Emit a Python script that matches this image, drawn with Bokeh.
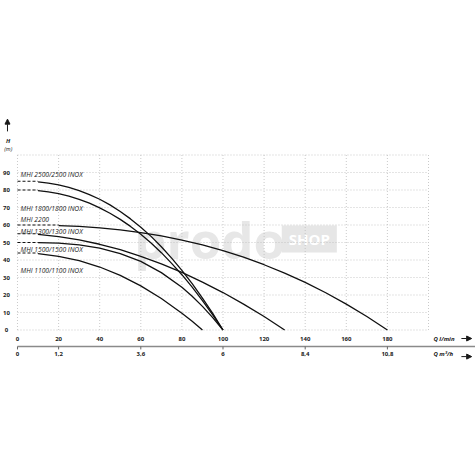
from bokeh.plotting import figure
from bokeh.models import Range1d, Arrow, NormalHead, ColumnDataSource
from bokeh.embed import file_html
from bokeh.resources import INLINE
from bokeh.core.properties import value

# ---------------- data ----------------
h_ticks = [0, 10, 20, 30, 40, 50, 60, 70, 80, 90]
grid_h = [0, 10, 20, 30, 40, 50, 60, 70, 80, 90, 100]
q_ticks = [0, 20, 40, 60, 80, 100, 120, 140, 160, 180]
grid_q = [0, 20, 40, 60, 80, 100, 120, 140, 160, 180, 200]
m3h_ticks = [0, 20, 60, 100, 140, 180]
m3h_labels = ["0", "1,2", "3,6", "6", "8,4", "10,8"]

q_2500 = [0, 5, 10, 15, 20, 25, 30, 35, 40, 45, 50, 55, 60, 65, 70, 75, 80, 85, 90, 95, 100]
h_2500 = [85, 84.9, 84.6, 83.9, 82.9, 81.5, 79.7, 77.4, 74.7, 71.5, 67.7, 63.5, 58.7, 53.5, 47.6, 41.1, 34.1, 26.5, 18.2, 9.5, 0]

q_1800 = [0, 5, 10, 15, 20, 25, 30, 35, 40, 45, 50, 55, 60, 65, 70, 75, 80, 85, 90, 95, 100]
h_1800 = [80, 79.9, 79.6, 78.9, 77.9, 76.5, 74.7, 72.5, 69.8, 66.7, 63.2, 59.2, 54.7, 49.7, 44.2, 38.1, 31.6, 24.5, 16.8, 8.7, 0]

q_2200 = [0, 10, 20, 30, 40, 50, 60, 70, 80, 90, 100, 110, 120, 130, 140, 150, 160, 170, 175, 180]
h_2200 = [60, 59.9, 59.7, 59.2, 58.4, 57.2, 55.7, 53.8, 51.4, 48.6, 45.4, 41.6, 37.3, 32.5, 27.2, 21.3, 14.8, 7.7, 3.9, 0]

q_1300 = [0, 10, 20, 30, 40, 50, 60, 70, 80, 90, 100, 110, 120, 125, 130]
h_1300 = [55, 54.6, 53.4, 51.5, 49.0, 45.9, 42.1, 37.8, 32.9, 27.4, 21.4, 14.8, 7.7, 3.9, 0]

q_1500 = [0, 10, 20, 30, 40, 50, 60, 70, 80, 85, 90, 95, 100]
h_1500 = [50, 49.9, 49.6, 48.6, 46.8, 43.7, 39.2, 32.8, 24.4, 19.3, 13.5, 7.1, 0]

q_1100 = [0, 10, 20, 30, 40, 50, 60, 70, 80, 85, 90]
h_1100 = [44, 43.6, 42.1, 39.6, 36.0, 31.2, 25.2, 18.0, 9.6, 5.0, 0]

curve_names = ["MHI 2500/2500 INOX", "MHI 1800/1800 INOX", "MHI 2200",
               "MHI 1300/1300 INOX", "MHI 1500/1500 INOX", "MHI 1100/1100 INOX"]
curve_q = [q_2500, q_1800, q_2200, q_1300, q_1500, q_1100]
curve_h = [h_2500, h_1800, h_2200, h_1300, h_1500, h_1100]
dash_end_q = [10, 10, 20, 10, 10, 10]
label_x = [1.5, 1.5, 1.5, 1.5, 1.5, 1.5]
label_y = [88.9, 69.4, 63.1, 56.3, 46.0, 34.0]

# ---------------- figure ----------------
# whole canvas is the data frame; Q=0 / H=0 fall inside it
p = figure(width=475, height=475, x_range=Range1d(-8.27, 222.87),
           y_range=Range1d(-83.14, 188.29),
           output_backend="svg", toolbar_location=None,
           x_axis_location=None, y_axis_location=None,
           min_border_left=0, min_border_right=0, min_border_top=0, min_border_bottom=0)
p.grid.visible = False
p.outline_line_color = None
p.background_fill_color = "white"
p.border_fill_color = "white"

FONT = "Open Sans"
INK = "#1a1a1a"

# watermark
p.text(x=[93.5], y=[52.0], text=["prodo"], text_font=value(FONT), text_font_size="51px",
       text_font_style="bold", text_color="#e7e7e7", text_align="center",
       text_baseline="alphabetic")
p.rect(x=[142], y=[52.0], width=26.8, height=15.5, fill_color="#e6e6e6", line_color=None)
p.text(x=[142], y=[52.0], text=["SHOP"], text_font=value(FONT), text_font_size="15px",
       text_font_style="bold", text_color="white", text_align="center",
       text_baseline="middle")

# grid
p.segment(x0=[0] * len(grid_h), y0=grid_h, x1=[200] * len(grid_h), y1=grid_h,
          line_color="#bdbdbd", line_width=0.8, line_dash="1 2")
p.segment(x0=grid_q, y0=[0] * len(grid_q), x1=grid_q, y1=[100] * len(grid_q),
          line_color="#bdbdbd", line_width=0.8, line_dash="1 2")

# curves
for qs, hs, de in zip(curve_q, curve_h, dash_end_q):
    dq = [q for q in qs if q <= de]
    dh = [hs[0]] * len(dq)
    p.line(dq, dh, line_color="#111111", line_width=1.1, line_dash="3 2")
    sq = [q for q in qs if q >= de]
    sh = [h for q, h in zip(qs, hs) if q >= de]
    p.line(sq, sh, line_color="#111111", line_width=1.3)

src = ColumnDataSource(dict(x=label_x, y=label_y, t=curve_names))
p.text(x="x", y="y", text="t", source=src, text_font=value(FONT), text_font_size="6.7px",
       text_font_style="italic", text_color="#1a1a1a", text_baseline="middle",
       text_align="left")

# y axis: tick labels, arrow, title
p.text(x=[-5.35] * len(h_ticks), y=h_ticks, text=[str(t) for t in h_ticks],
       text_font=value(FONT), text_font_size="6px", text_font_style="bold",
       text_color=INK, text_align="center", text_baseline="middle")
p.add_layout(Arrow(end=NormalHead(size=5, fill_color=INK, line_color=INK),
                   x_start=-4.87, y_start=113.5, x_end=-4.87, y_end=120.5,
                   line_color=INK, line_width=1))
p.text(x=[-4.6], y=[107.9], text=["H"], text_font=value(FONT), text_font_size="6px",
       text_font_style="bold italic", text_color=INK, text_align="center",
       text_baseline="middle")
p.text(x=[-4.5], y=[103.5], text=["(m)"], text_font=value(FONT), text_font_size="5.5px",
       text_font_style="italic", text_color=INK, text_align="center",
       text_baseline="middle")

# x axis (l/min)
p.text(x=q_ticks, y=[-4.86] * len(q_ticks), text=[str(t) for t in q_ticks],
       text_font=value(FONT), text_font_size="6px", text_font_style="bold",
       text_color=INK, text_align="center", text_baseline="middle")
p.text(x=[202.4], y=[-4.86], text=["Q l/min"], text_font=value(FONT), text_font_size="6px",
       text_font_style="bold italic", text_color=INK, text_align="left",
       text_baseline="middle")
p.add_layout(Arrow(end=NormalHead(size=5, fill_color=INK, line_color=INK),
                   x_start=216.0, y_start=-4.86, x_end=221.0, y_end=-4.86,
                   line_color=INK, line_width=1))

# second x axis (m3/h)
p.segment(x0=[0], y0=[-9.43], x1=[222.87], y1=[-9.43], line_color="#8a8a8a", line_width=1.3)
p.segment(x0=m3h_ticks, y0=[-9.43] * len(m3h_ticks), x1=m3h_ticks,
          y1=[-11.1] * len(m3h_ticks), line_color="#666666", line_width=1)
p.text(x=m3h_ticks, y=[-13.6] * len(m3h_ticks), text=m3h_labels,
       text_font=value(FONT), text_font_size="6px", text_font_style="bold",
       text_color=INK, text_align="center", text_baseline="middle")
p.text(x=[202.4], y=[-13.6], text=["Q m³/h"], text_font=value(FONT), text_font_size="6px",
       text_font_style="bold italic", text_color=INK, text_align="left",
       text_baseline="middle")
p.add_layout(Arrow(end=NormalHead(size=5, fill_color=INK, line_color=INK),
                   x_start=216.0, y_start=-15.2, x_end=221.0, y_end=-15.2,
                   line_color=INK, line_width=1))

open("out.html", "w").write(file_html(p, INLINE))
